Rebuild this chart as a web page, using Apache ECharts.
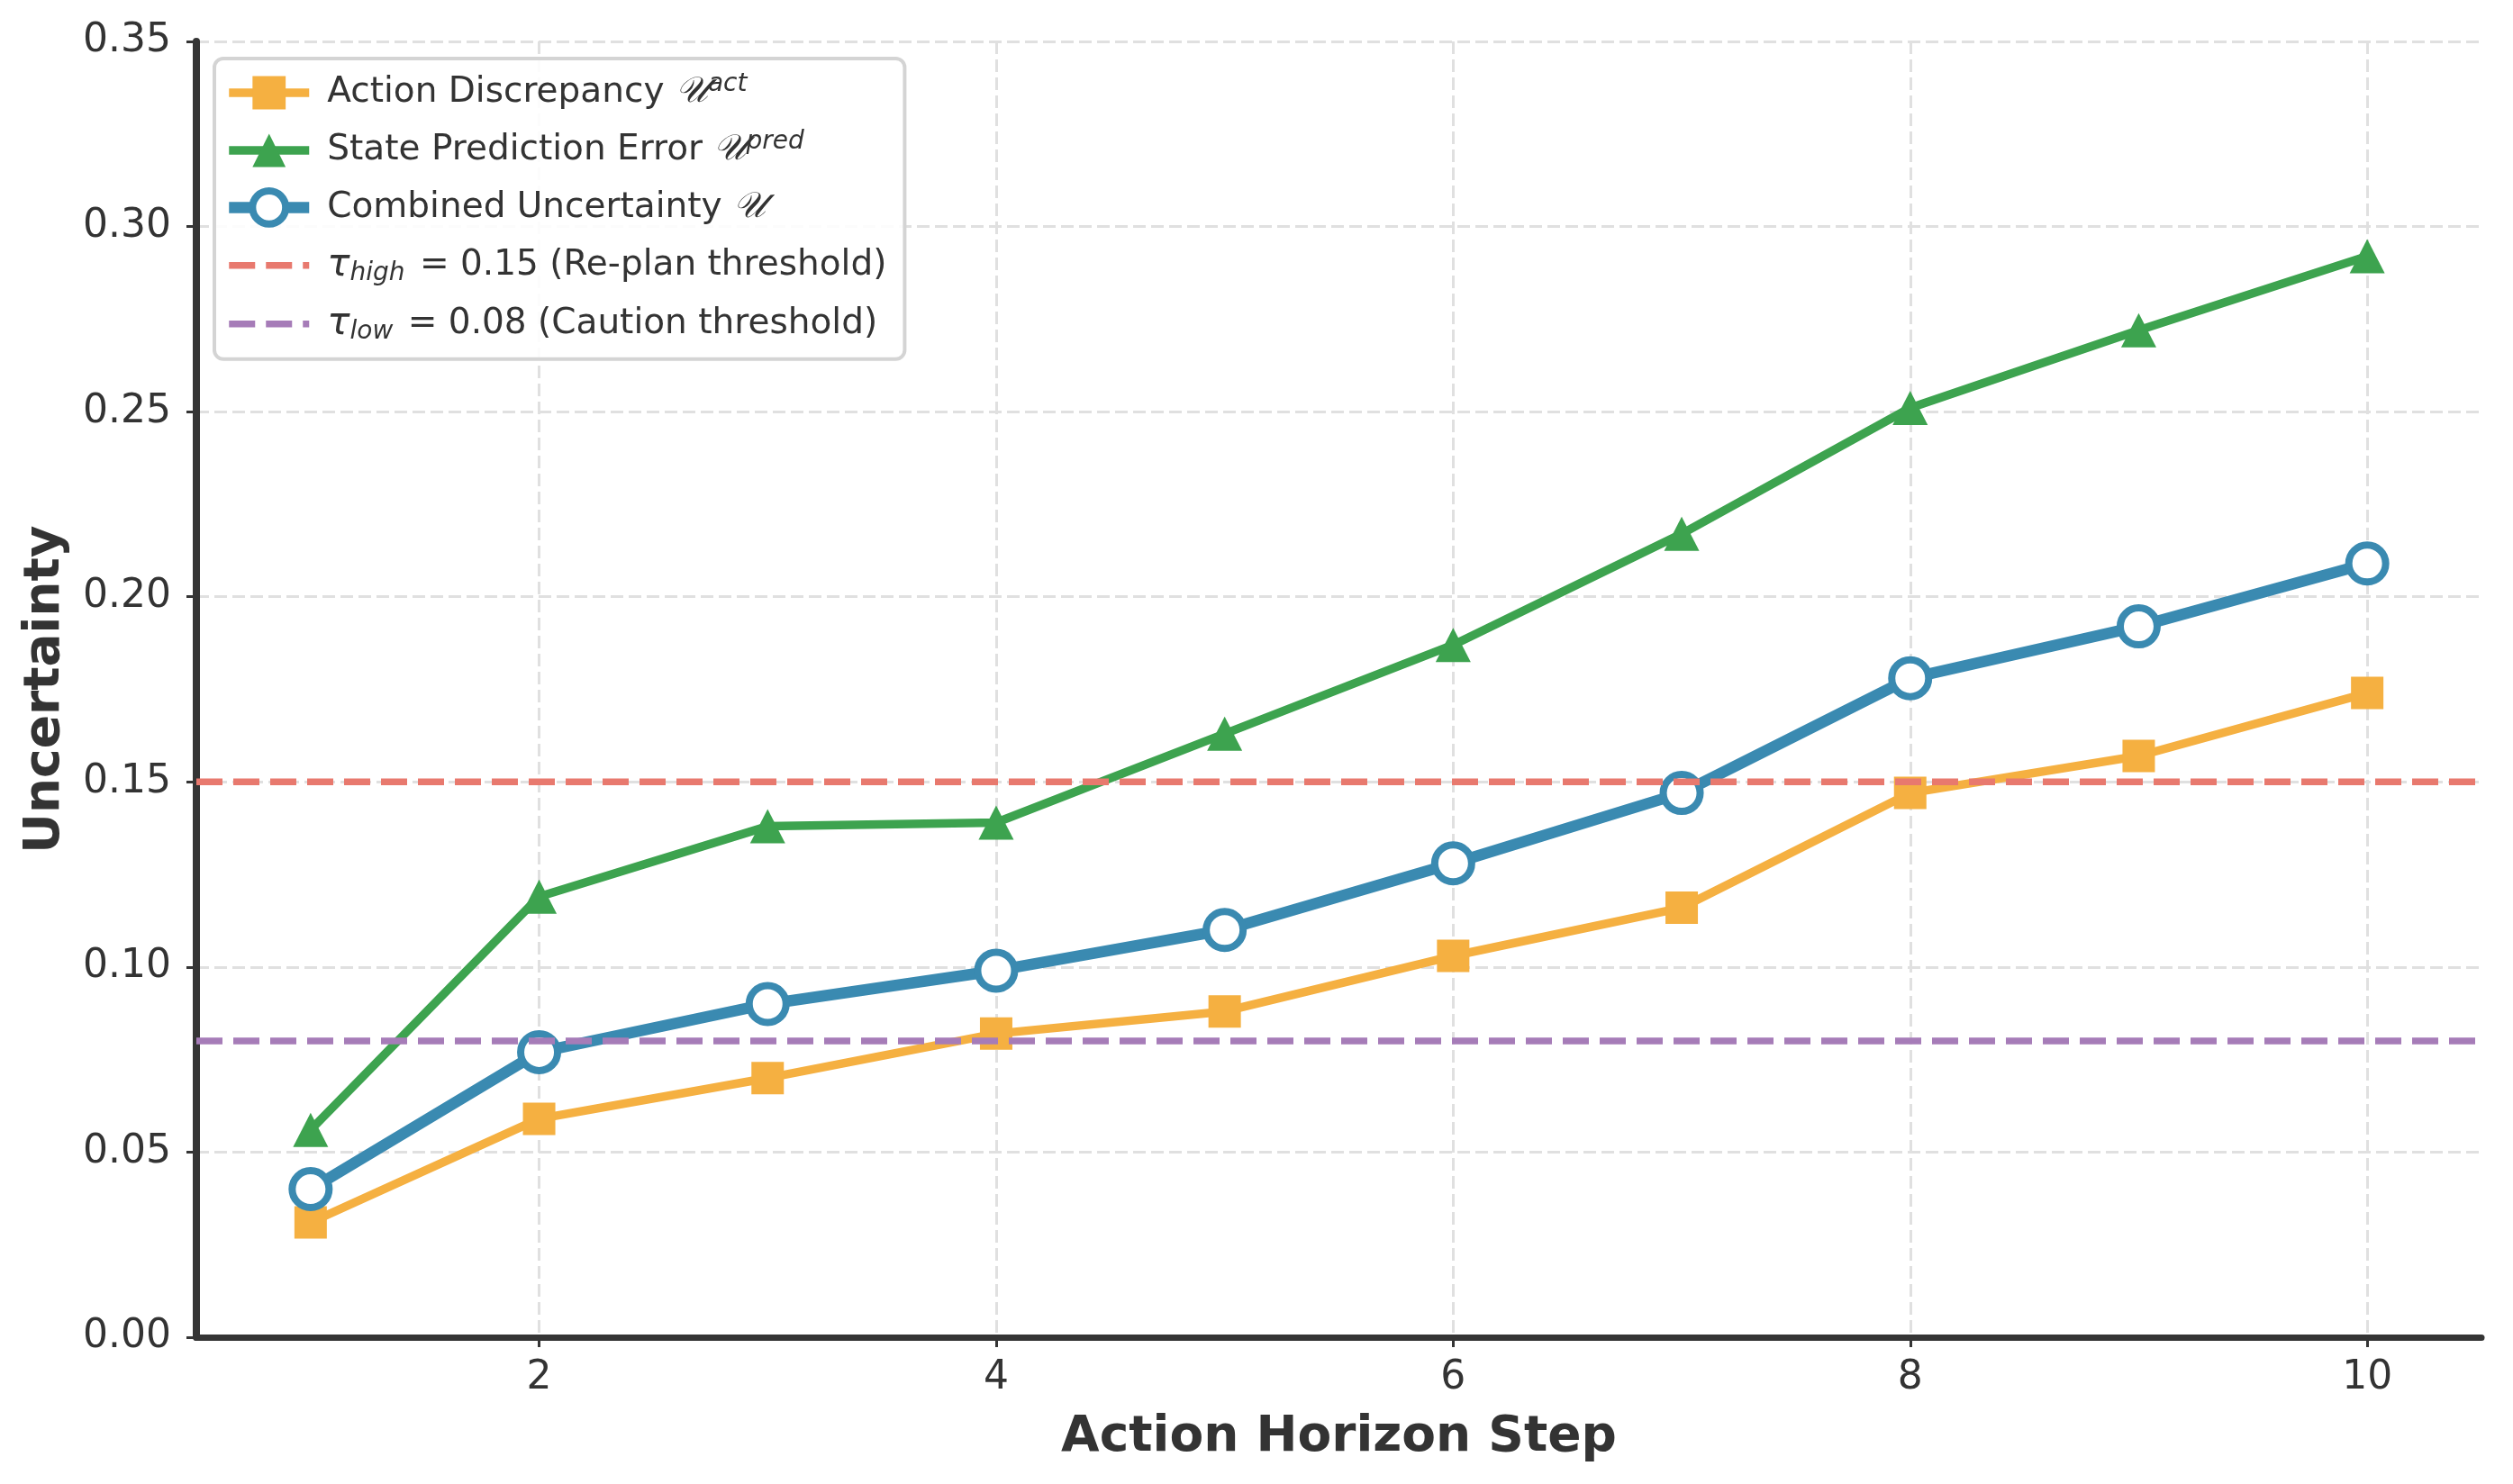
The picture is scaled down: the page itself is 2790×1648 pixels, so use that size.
<!DOCTYPE html>
<html>
<head>
<meta charset="utf-8">
<script src="https://cdn.jsdelivr.net/npm/echarts@6/dist/echarts.min.js"></script>
<style>
html,body{margin:0;padding:0;background:#fff;}
#chart{width:2790px;height:1648px;}
</style>
</head>
<body>
<div id="chart"></div>
<script>
// ---- data ----
const steps = [1, 2, 3, 4, 5, 6, 7, 8, 9, 10];
const actionDiscrepancy = [0.031, 0.059, 0.070, 0.082, 0.088, 0.103, 0.116, 0.147, 0.157, 0.174];
const statePredError    = [0.056, 0.119, 0.138, 0.139, 0.163, 0.187, 0.217, 0.251, 0.272, 0.292];
const combined          = [0.040, 0.077, 0.090, 0.099, 0.110, 0.128, 0.147, 0.178, 0.192, 0.209];
const tauHigh = 0.15;
const tauLow = 0.08;
const xTicks = [2, 4, 6, 8, 10];
const yTicks = [0.00, 0.05, 0.10, 0.15, 0.20, 0.25, 0.30, 0.35];
const X_MIN = 0.5, X_MAX = 10.5;

const names = {
  act: 'Action Discrepancy',
  pred: 'State Prediction Error',
  comb: 'Combined Uncertainty',
  high: 'tau_high',
  low: 'tau_low'
};

const FONT = 'DejaVu Sans';
const TXT = '#333333';
const C_ACT = '#F5B041', C_PRED = '#3DA34F', C_COMB = '#3A8AB1', C_HIGH = '#E8796E', C_LOW = '#A67CB8';

function pairs(xs, ys) { return xs.map((x, i) => [x, ys[i]]); }

const chart = echarts.init(document.getElementById('chart'), null, {renderer: 'canvas'});

const legendFormatter = function (name) {
  if (name === names.act) return '{t|Action Discrepancy }{U|𝒰}{sup|act}';
  if (name === names.pred) return '{t|State Prediction Error }{U|𝒰}{sup|pred}';
  if (name === names.comb) return '{t|Combined Uncertainty }{U|𝒰}';
  if (name === names.high) return '{tau|τ}{sub|high}{t| = ' + tauHigh.toFixed(2) + ' (Re-plan threshold)}';
  if (name === names.low) return '{tau|τ}{sub|low}{t| = ' + tauLow.toFixed(2) + ' (Caution threshold)}';
  return name;
};

const option = {
  animation: false,
  backgroundColor: '#ffffff',
  grid: { left: 218, right: 35, top: 46, bottom: 163, containLabel: false },
  legend: {
    show: true,
    orient: 'vertical',
    left: 238,
    top: 65,
    padding: [15, 20, 16, 10],
    itemWidth: 89,
    itemHeight: 46,
    itemGap: 21,
    backgroundColor: 'rgba(255,255,255,0.9)',
    borderColor: '#d4d4d4',
    borderWidth: 4,
    borderRadius: 10,
    formatter: legendFormatter,
    textStyle: {
      fontFamily: FONT,
      fontSize: 39,
      color: TXT,
      padding: [0, 0, 0, 15],
      rich: {
        t: { fontFamily: FONT, fontSize: 39, color: TXT, lineHeight: 46 },
        U: { fontFamily: 'DejaVu Serif', fontStyle: 'italic', fontSize: 40, color: TXT, lineHeight: 46 },
        sup: { fontFamily: FONT, fontStyle: 'italic', fontSize: 28, color: TXT, lineHeight: 28, verticalAlign: 'top' },
        tau: { fontFamily: FONT, fontStyle: 'italic', fontSize: 42, color: TXT, lineHeight: 46 },
        sub: { fontFamily: FONT, fontStyle: 'italic', fontSize: 28, color: TXT, lineHeight: 28, verticalAlign: 'bottom', padding: [0, 4, 0, 0] }
      }
    },
    data: [
      { name: names.act, lineStyle: { width: 9.5, color: C_ACT }, itemStyle: { color: C_ACT } },
      { name: names.pred, lineStyle: { width: 9.5, color: C_PRED }, itemStyle: { color: C_PRED } },
      { name: names.comb, lineStyle: { width: 12.5, color: C_COMB }, itemStyle: { color: '#ffffff', borderColor: C_COMB, borderWidth: 8 } },
      { name: names.high, lineStyle: { width: 7.5, color: C_HIGH, type: [29, 12] }, itemStyle: { opacity: 0 } },
      { name: names.low, lineStyle: { width: 7.5, color: C_LOW, type: [29, 12] }, itemStyle: { opacity: 0 } }
    ]
  },
  xAxis: {
    type: 'value',
    min: X_MIN,
    max: X_MAX,
    name: 'Action Horizon Step',
    nameLocation: 'middle',
    nameGap: 84,
    nameTextStyle: { fontFamily: FONT, fontSize: 55, fontWeight: 'bold', color: TXT },
    axisLine: { show: true, onZero: false, lineStyle: { color: '#353535', width: 7 } },
    axisTick: { show: true, inside: false, length: 11, customValues: xTicks, lineStyle: { color: '#353535', width: 3 } },
    axisLabel: { show: true, customValues: xTicks, margin: 24, fontFamily: FONT, fontSize: 44, color: TXT,
      formatter: v => String(v) },
    splitLine: { show: true, lineStyle: { color: '#e0e0e0', width: 3, type: [14, 6] } }
  },
  yAxis: {
    type: 'value',
    min: yTicks[0],
    max: yTicks[yTicks.length - 1],
    interval: 0.05,
    name: 'Uncertainty',
    nameLocation: 'middle',
    nameGap: 140,
    nameTextStyle: { fontFamily: FONT, fontSize: 55, fontWeight: 'bold', color: TXT },
    axisLine: { show: true, lineStyle: { color: '#353535', width: 8 } },
    axisTick: { show: true, inside: false, length: 11, lineStyle: { color: '#353535', width: 3 } },
    axisLabel: { show: true, margin: 28, fontFamily: FONT, fontSize: 44, color: TXT,
      formatter: v => v.toFixed(2) },
    splitLine: { show: true, lineStyle: { color: '#e0e0e0', width: 3, type: [14, 6] } }
  },
  series: [
    {
      name: names.act, type: 'line', z: 3,
      data: pairs(steps, actionDiscrepancy),
      symbol: 'rect', symbolSize: 36,
      lineStyle: { color: C_ACT, width: 9.5 },
      itemStyle: { color: C_ACT }
    },
    {
      name: names.pred, type: 'line', z: 4,
      data: pairs(steps, statePredError),
      symbol: 'triangle', symbolSize: [39, 38],
      lineStyle: { color: C_PRED, width: 9.5 },
      itemStyle: { color: C_PRED }
    },
    {
      name: names.comb, type: 'line', z: 5,
      data: pairs(steps, combined),
      symbol: 'circle', symbolSize: 41,
      lineStyle: { color: C_COMB, width: 12.5 },
      itemStyle: { color: '#ffffff', borderColor: C_COMB, borderWidth: 8 }
    },
    {
      name: names.high, type: 'line', z: 6,
      data: [[X_MIN, tauHigh], [X_MAX, tauHigh]],
      symbol: 'none',
      lineStyle: { color: C_HIGH, width: 7.5, type: [29, 12] },
      itemStyle: { color: C_HIGH }
    },
    {
      name: names.low, type: 'line', z: 6,
      data: [[X_MIN, tauLow], [X_MAX, tauLow]],
      symbol: 'none',
      lineStyle: { color: C_LOW, width: 7.5, type: [29, 12] },
      itemStyle: { color: C_LOW }
    }
  ]
};

chart.setOption(option);
</script>
</body>
</html>
